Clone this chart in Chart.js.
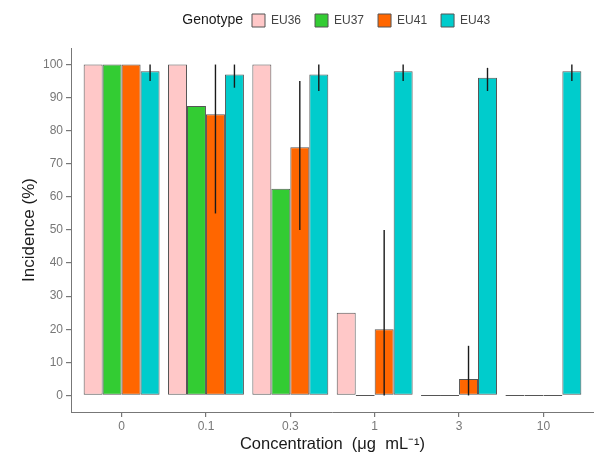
<!DOCTYPE html>
<html>
<head>
<meta charset="utf-8">
<script src="https://cdn.jsdelivr.net/npm/chart.js@4"></script>
<style>
  html, body { margin: 0; padding: 0; background: #ffffff; }
  #wrap { width: 594px; height: 455px; }
</style>
</head>
<body>
<div id="wrap"><canvas id="c" width="594" height="455"></canvas></div>
<script>
// ---- data ----
const categories = ['0', '0.1', '0.3', '1', '3', '10'];
const seriesNames = ['EU36', 'EU37', 'EU41', 'EU43'];
const eu36 = [100, 100, 100, 25, 0, 0];
const eu37 = [100, 87.5, 62.5, 0, 0, 0];
const eu41 = [100, 85, 75, 20, 5, 0];
const eu43 = [98, 97, 97, 98, 96, 98];
// error bar ends [low, high] per category (null = no bar)
const eu36Err = [null, null, null, null, null, null];
const eu37Err = [null, null, null, null, null, null];
const eu41Err = [null, [55, 100], [50, 95], [0, 50], [0, 15], null];
const eu43Err = [[95, 100], [93, 100], [92, 100], [95, 100], [92, 99], [95, 100]];
const yTicks = [0, 10, 20, 30, 40, 50, 60, 70, 80, 90, 100];
const legendTitle = 'Genotype';
const xTitle = 'Concentration  (\u03BCg  mL\u207B\u00B9)';
const yTitle = 'Incidence (%)';

// ---- styles ----
const colors = ['#FFC8C8', '#33CC33', '#FF6600', '#00CCCC'];
const FONT = "'Liberation Sans', Arial, Helvetica, sans-serif";
const GRAY = '#777777';

const seriesValues = [eu36, eu37, eu41, eu43];
const seriesErr = [eu36Err, eu37Err, eu41Err, eu43Err];

const datasets = seriesNames.map((name, d) => ({
  label: name,
  data: seriesValues[d].map((v, i) => ({ x: i, y: v })),
  errs: seriesErr[d],
  backgroundColor: colors[d],
  borderColor: '#555555',
  borderWidth: 1,
  borderSkipped: false,
  minBarLength: 1,
  categoryPercentage: 0.9,
  barPercentage: 1.0
}));

const errorBarPlugin = {
  id: 'errorBars',
  afterDatasetsDraw(chart) {
    const ctx = chart.ctx;
    const yScale = chart.scales.y;
    ctx.save();
    ctx.strokeStyle = '#1a1a1a';
    ctx.lineWidth = 1.4;
    chart.data.datasets.forEach((ds, d) => {
      const meta = chart.getDatasetMeta(d);
      meta.data.forEach((el, i) => {
        const e = ds.errs[i];
        if (!e) return;
        const x = el.x;
        ctx.beginPath();
        ctx.moveTo(x, yScale.getPixelForValue(e[0]));
        ctx.lineTo(x, yScale.getPixelForValue(e[1]));
        ctx.stroke();
      });
    });
    ctx.restore();
  }
};

const legendLayoutPlugin = {
  id: 'legendLayout',
  beforeInit(chart) {
    const lg = chart.legend;
    if (!lg) return;
    const orig = lg.fit;
    lg.fit = function () { orig.call(this); this.height += 11; };
  },
  afterLayout(chart) {
    const lg = chart.legend;
    if (!lg || !lg.lineWidths) return;
    const pad = lg.options.labels.padding;
    const cur = (lg.left + pad + lg.right - lg.lineWidths[0]) / 2;
    const shift = 252 - cur;
    lg.left += shift;
    lg.right += shift;
  },
  afterDraw(chart) {
    const lg = chart.legend;
    if (!lg || !lg.legendHitBoxes || !lg.legendHitBoxes.length) return;
    const hb = lg.legendHitBoxes[0];
    const ctx = chart.ctx;
    ctx.save();
    ctx.font = '14px ' + FONT;
    ctx.fillStyle = '#1a1a1a';
    ctx.textAlign = 'right';
    ctx.textBaseline = 'middle';
    ctx.fillText(legendTitle, hb.left - 9, hb.top + hb.height / 2);
    ctx.restore();
  }
};

new Chart(document.getElementById('c'), {
  type: 'bar',
  data: { datasets },
  plugins: [errorBarPlugin, legendLayoutPlugin],
  options: {
    responsive: false,
    animation: false,
    layout: { padding: { left: 0, right: 0, top: 0, bottom: 0 } },
    plugins: {
      tooltip: { enabled: false },
      legend: {
        display: true,
        position: 'top',
        align: 'center',
        labels: {
          boxWidth: 13,
          boxHeight: 13,
          padding: 14,
          color: '#444444',
          font: { family: FONT, size: 12 }
        }
      }
    },
    scales: {
      x: {
        type: 'linear',
        min: -0.6,
        max: 5.6,
        offset: false,
        afterBuildTicks(scale) { scale.ticks = categories.map((_, i) => ({ value: i })); },
        afterFit(scale) { scale.height = 43; },
        ticks: {
          autoSkip: false,
          maxRotation: 0,
          padding: 2,
          color: GRAY,
          font: { family: FONT, size: 12 },
          callback: (v) => categories[v]
        },
        grid: { display: true, offset: false, drawOnChartArea: false, drawTicks: true, tickLength: 5, color: GRAY, tickColor: GRAY, tickWidth: 1.2, lineWidth: 1.2 },
        border: { display: true, color: GRAY, width: 1 },
        title: {
          display: true,
          text: xTitle,
          color: '#1a1a1a',
          font: { family: FONT, size: 16.5 },
          padding: { top: 0, bottom: 1 }
        }
      },
      y: {
        type: 'linear',
        min: -5,
        max: 105,
        afterBuildTicks(scale) { scale.ticks = yTicks.map(v => ({ value: v })); },
        afterFit(scale) { scale.width = 71; },
        ticks: {
          padding: 3,
          color: GRAY,
          font: { family: FONT, size: 12 }
        },
        grid: { display: true, drawOnChartArea: false, drawTicks: true, tickLength: 5, color: GRAY, lineWidth: 1.2 },
        border: { display: true, color: GRAY, width: 1 },
        title: {
          display: true,
          text: yTitle,
          color: '#1a1a1a',
          font: { family: FONT, size: 17 },
          padding: { top: 19, bottom: 0 }
        }
      }
    }
  }
});
</script>
</body>
</html>
